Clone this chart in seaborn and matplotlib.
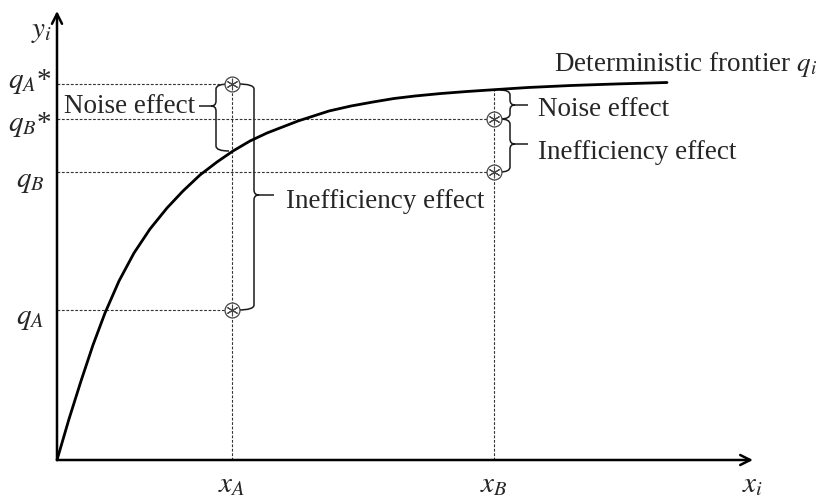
import matplotlib
matplotlib.use("Agg")
import matplotlib.pyplot as plt
from matplotlib.path import Path
from matplotlib.patches import PathPatch
import seaborn as sns

# frontier curve (axis units = pixels from origin)
frontier_x = [0, 12, 24, 36, 48, 62, 77, 93, 110, 126, 143, 160, 176, 193, 210,
              241, 272, 294, 316, 337, 358, 384, 410, 440, 471, 514, 558, 610]
frontier_y = [0, 41, 79, 115, 147, 179, 207, 231, 252, 269, 285, 298, 309, 319, 327,
              339, 349, 354, 358, 361.5, 364, 366.5, 368.5, 370.5, 372.5, 374.5, 376, 377.5]

# input levels and output levels
x_A, x_B = 175, 437
q_A_star, q_B_star, q_B, q_A = 376, 341, 288, 150
f_A, f_B = 309, 370  # frontier value at x_A and x_B

obs_x = [x_A, x_A, x_B, x_B]
obs_y = [q_A_star, q_A, q_B_star, q_B]

y_tick_labels = [r"$q_A$*", r"$q_B$*", r"$q_B$", r"$q_A$"]
x_tick_labels = [r"$x_A$", r"$x_B$"]


def brace(ax, x0, ytop, ybot, ytip, d, w, tip=18, r=5, color="#1a1a1a"):
    # vertical curly brace, tip points in direction d (+1 right, -1 left)
    verts = [(x0 - d * w, ytop), (x0, ytop), (x0, ytop - r),
             (x0, ytip + r), (x0, ytip), (x0 + d * r, ytip),
             (x0 + d * tip, ytip),
             (x0 + d * r, ytip), (x0, ytip), (x0, ytip - r),
             (x0, ybot + r), (x0, ybot), (x0 - d * w, ybot)]
    codes = [Path.MOVETO, Path.CURVE3, Path.CURVE3,
             Path.LINETO, Path.CURVE3, Path.CURVE3,
             Path.LINETO,
             Path.MOVETO, Path.CURVE3, Path.CURVE3,
             Path.LINETO, Path.CURVE3, Path.CURVE3]
    ax.add_patch(PathPatch(Path(verts, codes), fill=False, lw=1.1, ec=color))


def generate_graph():
    sns.set_style("white")
    plt.rcParams["font.family"] = ["Liberation Serif", "DejaVu Serif"]
    plt.rcParams["mathtext.fontset"] = "stix"

    fig = plt.figure(figsize=(8.29, 4.98), dpi=100)
    ax = fig.add_axes([0, 0, 1, 1])
    ax.set_xlim(-57, 772)
    ax.set_ylim(-38, 460)
    ax.axis("off")

    dash = dict(color="#333333", lw=0.8, ls=(0, (2.5, 1.5)))
    # horizontal guides
    ax.plot([0, x_A], [q_A_star, q_A_star], **dash)
    ax.plot([0, x_A], [q_A, q_A], **dash)
    ax.plot([0, x_B], [q_B_star, q_B_star], **dash)
    ax.plot([0, x_B], [q_B, q_B], **dash)
    # vertical guides
    ax.plot([x_A, x_A], [0, q_A_star], **dash)
    ax.plot([x_B, x_B], [0, f_B], **dash)

    # frontier
    sns.lineplot(x=frontier_x, y=frontier_y, ax=ax, color="black", lw=2.0,
                 sort=False, estimator=None)

    # observations
    sns.scatterplot(x=obs_x, y=obs_y, ax=ax, marker="o", s=115,
                    facecolor="white", edgecolor="#444444", linewidth=0.9, zorder=5)
    sns.scatterplot(x=obs_x, y=obs_y, ax=ax, marker=(6, 2, 0), s=60,
                    color="#444444", linewidth=0.8, zorder=6)

    # axes with arrows
    ax.annotate("", xy=(0, 449), xytext=(0, 0),
                arrowprops=dict(arrowstyle="->", lw=1.8, color="black",
                                shrinkA=0, shrinkB=0, mutation_scale=18))
    ax.annotate("", xy=(696, 0), xytext=(0, 0),
                arrowprops=dict(arrowstyle="->", lw=1.8, color="black",
                                shrinkA=0, shrinkB=0, mutation_scale=18))

    fs = 19.5
    mfs = 21
    ax.text(-15, 428, r"$y_i$", fontsize=mfs, ha="center", va="center")
    ax.text(696, -25, r"$x_i$", fontsize=mfs, ha="center", va="center")
    for y, lab in zip([379, 336, 278, 141], y_tick_labels):
        ax.text(-27, y, lab, fontsize=mfs, ha="center", va="center")
    for x, lab in zip([x_A, x_B], x_tick_labels):
        ax.text(x, -25, lab, fontsize=mfs, ha="center", va="center")

    # braces
    brace(ax, 159, q_A_star, f_A, 354, -1, 13, tip=17)
    brace(ax, 197, q_A_star, q_A, 265, 1, 16, tip=20)
    brace(ax, 453, f_B, q_B_star, 355, 1, 10, tip=18)
    brace(ax, 453, q_B_star, q_B, 316, 1, 10, tip=18)

    ax.text(138, 347, "Noise effect", fontsize=fs, ha="right", va="baseline")
    ax.text(229, 252, "Inefficiency effect", fontsize=fs, ha="left", va="baseline")
    ax.text(481, 344, "Noise effect", fontsize=fs, ha="left", va="baseline")
    ax.text(481, 301, "Inefficiency effect", fontsize=fs, ha="left", va="baseline")
    ax.text(497, 389, r"Deterministic frontier $q_i$", fontsize=fs, ha="left", va="baseline")

    fig.savefig("out.png", dpi=100)


if __name__ == "__main__":
    generate_graph()
